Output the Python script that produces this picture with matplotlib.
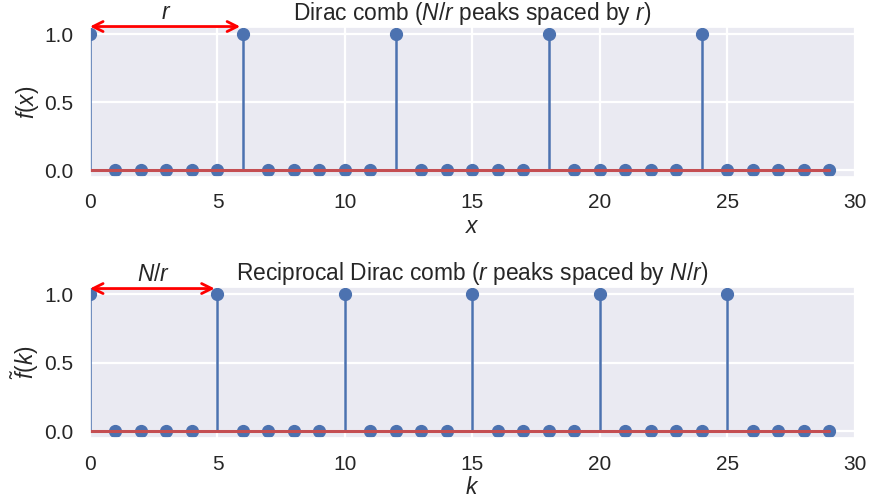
import numpy as np
import matplotlib
matplotlib.use("Agg")
import matplotlib.pyplot as plt
import seaborn as sns

sns.set_theme(style="darkgrid")
plt.rcParams['font.family'] = ['Liberation Sans', 'DejaVu Sans']
plt.rcParams['mathtext.fontset'] = 'custom'
plt.rcParams['mathtext.rm'] = 'Liberation Sans'
plt.rcParams['mathtext.it'] = 'Liberation Sans:italic'
plt.rcParams['mathtext.bf'] = 'Liberation Sans:bold'

N = 30
r = 6
x_vals = list(range(30))
f_vals = [1, 0, 0, 0, 0, 0, 1, 0, 0, 0, 0, 0, 1, 0, 0, 0, 0, 0, 1, 0, 0, 0, 0, 0, 1, 0, 0, 0, 0, 0]
k_vals = list(range(30))
ft_vals = [1, 0, 0, 0, 0, 1, 0, 0, 0, 0, 1, 0, 0, 0, 0, 1, 0, 0, 0, 0, 1, 0, 0, 0, 0, 1, 0, 0, 0, 0]
xticks = [0, 5, 10, 15, 20, 25, 30]
yticks = [0.0, 0.5, 1.0]

fig = plt.figure(figsize=(8.71, 5.01), dpi=100)
ax1 = fig.add_axes([0.1033, 0.6471, 0.8783, 0.2986])
ax2 = fig.add_axes([0.1033, 0.1260, 0.8783, 0.3008])

blue = '#4c72b0'
red = '#c44e52'
fs = 15
tfs = 16.4

def draw(ax, xs, ys, title, xlabel, ylabel, span, arrow_y, label, label_y):
    ml, sl, bl = ax.stem(xs, ys)
    plt.setp(ml, color=blue, markersize=8.5)
    plt.setp(sl, color=blue, linewidth=1.8)
    plt.setp(bl, color=red, linewidth=2.2)
    ax.set_xlim(0, 30)
    ax.set_ylim(-0.05, 1.05)
    ax.set_xticks(xticks)
    ax.set_yticks(yticks)
    ax.tick_params(axis='both', labelsize=fs, pad=12, length=0)
    ax.grid(True, color='white', linewidth=1.6)
    ax.set_title(title, fontsize=tfs, pad=5)
    ax.set_xlabel(xlabel, fontsize=tfs, labelpad=2)
    ax.set_ylabel(ylabel, fontsize=tfs, labelpad=2)
    ax.annotate('', xy=(span, arrow_y), xytext=(0, arrow_y),
                arrowprops=dict(arrowstyle='<->', color='red', lw=2,
                                shrinkA=0, shrinkB=2, mutation_scale=18),
                annotation_clip=False)
    ax.text(span / 2, label_y, label, fontsize=tfs, ha='center', va='bottom')

draw(ax1, x_vals, f_vals, r'Dirac comb ($N/r$ peaks spaced by $r$)', r'$x$', r'$f(x)$',
     r, 1.055, r'$r$', 1.075)
draw(ax2, k_vals, ft_vals, r'Reciprocal Dirac comb ($r$ peaks spaced by $N/r$)', r'$k$', r'$\tilde{f}(k)$',
     N / r, 1.04, r'$N/r$', 1.06)

fig.savefig('out.png', dpi=100)
